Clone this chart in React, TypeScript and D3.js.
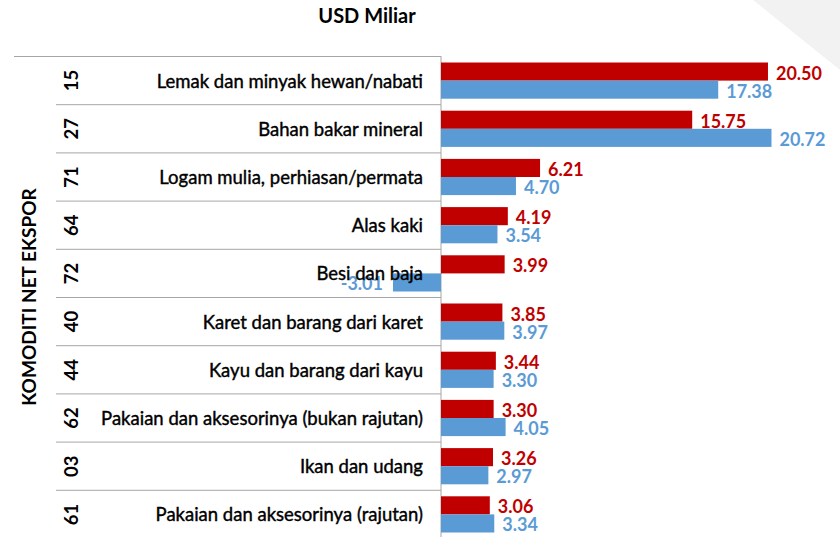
import React from 'react';
import * as d3 from 'd3';

// HS codes, commodity names and net export values (USD billion)
const codes = ['15', '27', '71', '64', '72', '40', '44', '62', '03', '61'];
const labels = [
  'Lemak dan minyak hewan/nabati',
  'Bahan bakar mineral',
  'Logam mulia, perhiasan/permata',
  'Alas kaki',
  'Besi dan baja',
  'Karet dan barang dari karet',
  'Kayu dan barang dari kayu',
  'Pakaian dan aksesorinya (bukan rajutan)',
  'Ikan dan udang',
  'Pakaian dan aksesorinya (rajutan)',
];
const redValues = [20.5, 15.75, 6.21, 4.19, 3.99, 3.85, 3.44, 3.3, 3.26, 3.06];
const blueValues = [17.38, 20.72, 4.7, 3.54, -3.01, 3.97, 3.3, 4.05, 2.97, 3.34];

const W = 840;
const H = 537;
const RED = '#C00000';
const BLUE = '#5B9BD5';
const GRID = '#a6a6a6';
const FONT = 'Lato, "Open Sans", sans-serif';

// plain hyphen for negatives, as in the source
const fmt = d3
  .formatLocale({ decimal: '.', thousands: ',', grouping: [3], currency: ['$', ''], minus: '-' })
  .format('.2f');

export default function App() {
  const x = d3.scaleLinear().domain([0, 20]).range([441, 760]);
  const y = d3.scaleBand<string>().domain(codes).range([56.5, 538.5]).paddingInner(0);
  const pad = 6;
  const barH = (y.bandwidth() - pad * 2) / 2;

  return (
    <div style={{ position: 'absolute', left: 0, top: 0 }}>
      <svg width={W} height={H} style={{ display: 'block', fontFamily: FONT }}>
        <rect width={W} height={H} fill="#fff" />
        <polygon points={`753,0 ${W},0 ${W},70`} fill="#f2f2f2" />

        <text x={367} y={23} textAnchor="middle" fontSize={20} fontWeight="bold" fill="#000">
          USD Miliar
        </text>

        {/* table grid */}
        {codes.map((c, i) => (
          <line
            key={'g' + c}
            x1={i === 0 ? 14 : 56}
            x2={x(0)}
            y1={y(c)!}
            y2={y(c)!}
            stroke={GRID}
            strokeWidth={1}
          />
        ))}
        <line x1={x(0)} x2={x(0)} y1={56} y2={H} stroke={GRID} strokeWidth={1} />

        {/* bars */}
        {codes.map((c, i) => {
          const y0 = y(c)! + pad;
          const rv = redValues[i];
          const bv = blueValues[i];
          return (
            <g key={'b' + c}>
              <rect
                x={Math.min(x(0), x(rv))}
                y={y0}
                width={Math.abs(x(rv) - x(0))}
                height={barH}
                fill={RED}
              />
              <rect
                x={Math.min(x(0), x(bv))}
                y={y0 + barH}
                width={Math.abs(x(bv) - x(0))}
                height={barH}
                fill={BLUE}
              />
              <text
                x={rv >= 0 ? x(rv) + 8 : x(rv) - 10}
                y={y0 + barH / 2 + 1}
                textAnchor={rv >= 0 ? 'start' : 'end'}
                dominantBaseline="central"
                fontSize={18}
                fontWeight="bold"
                fill={RED}
              >
                {fmt(rv)}
              </text>
              <text
                x={bv >= 0 ? x(bv) + 8 : x(bv) - 10}
                y={y0 + barH * 1.5 + 1}
                textAnchor={bv >= 0 ? 'start' : 'end'}
                dominantBaseline="central"
                fontSize={18}
                fontWeight="bold"
                fill={BLUE}
              >
                {fmt(bv)}
              </text>
            </g>
          );
        })}

        {/* category labels and codes */}
        {codes.map((c, i) => {
          const cy = y(c)! + y.bandwidth() / 2;
          return (
            <g key={'l' + c}>
              <text
                x={423}
                y={cy}
                textAnchor="end"
                dominantBaseline="central"
                fontSize={18.5}
                fill="#000"
                stroke="#000"
                strokeWidth={0.4}
              >
                {labels[i]}
              </text>
              <text
                transform={`translate(71,${cy}) rotate(-90)`}
                textAnchor="middle"
                dominantBaseline="central"
                fontSize={18.5}
                fontWeight="bold"
                fill="#000"
              >
                {c}
              </text>
            </g>
          );
        })}

        <text
          transform={`translate(28,297) rotate(-90)`}
          textAnchor="middle"
          dominantBaseline="central"
          fontSize={19}
          fontWeight="bold"
          fill="#000"
        >
          KOMODITI NET EKSPOR
        </text>
      </svg>
    </div>
  );
}
